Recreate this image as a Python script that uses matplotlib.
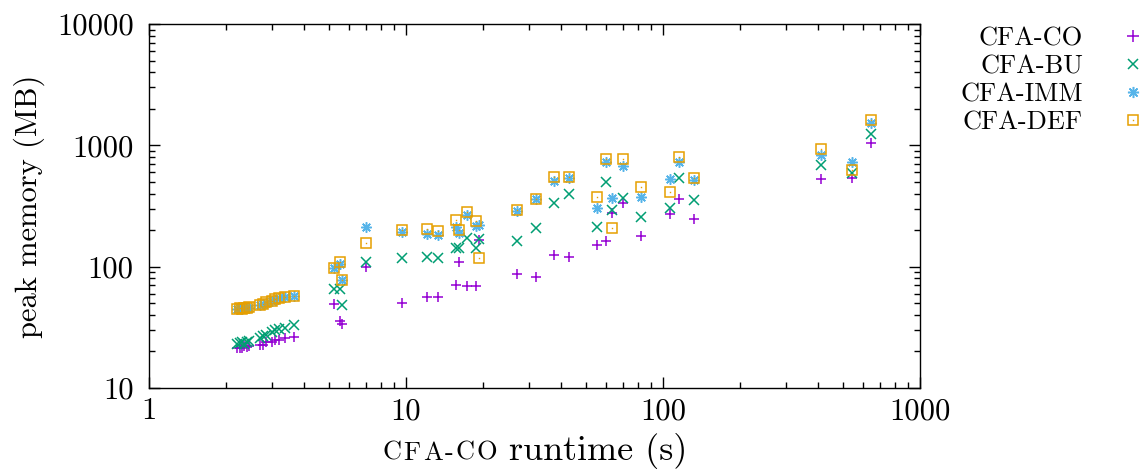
#!/usr/bin/env python3
"""
Peak memory vs CFA-CO runtime, log-log scatter (gnuplot look).
"""

import matplotlib
matplotlib.use("Agg")
import matplotlib.pyplot as plt
from matplotlib.lines import Line2D
from matplotlib.ticker import NullFormatter
from matplotlib.offsetbox import TextArea, HPacker, AnchoredOffsetbox

# ---------- Data ----------
runtime = [2.20, 2.25, 2.30, 2.35, 2.40, 2.45, 2.70, 2.78, 2.85, 3.00, 3.08, 3.20, 3.38, 3.65,
           5.25, 5.53, 5.63, 6.99, 9.65, 12.1, 13.3, 15.7, 16.1, 17.3, 18.7, 19.2,
           27.0, 32.1, 37.7, 43.1, 55.4, 60.0, 63.3, 69.9, 82.1, 106, 115, 132,
           412, 544, 645]

mem_co = [21.2, 21.5, 21.3, 22.0, 21.8, 22.3, 22.8, 22.5, 23.8, 24.0, 24.8, 25.0, 25.8, 26.3,
          49, 36, 34, 99, 50, 56, 56, 70, 109, 69, 69, 166,
          87, 82, 125, 120, 151, 163, 277, 335, 179, 272, 361, 247,
          529, 538, 1047]

mem_bu = [23.0, 23.5, 24.0, 23.2, 24.0, 24.2, 26.0, 27.0, 27.5, 29.0, 30.0, 30.5, 31.5, 33.0,
          65, 65, 48, 109, 118, 120, 118, 143, 143, 172, 143, 169,
          163, 208, 335, 397, 212, 499, 293, 369, 257, 305, 538, 355,
          689, 592, 1242]

mem_imm = [45.0, 45.5, 45.0, 45.8, 45.3, 46.0, 48.5, 49.0, 50.5, 52.0, 53.5, 55.0, 56.0, 57.0,
           98, 105, 77, 212, 193, 186, 183, 212, 190, 267, 216, 220,
           290, 361, 509, 540, 305, 730, 369, 676, 376, 529, 730, 520,
           834, 730, 1530]

mem_def = [45.2, 45.6, 45.1, 46.0, 45.4, 46.2, 48.6, 49.2, 50.7, 52.3, 53.8, 55.2, 56.3, 57.2,
           98, 109, 77, 157, 200, 205, 195, 243, 200, 283, 238, 118,
           293, 361, 548, 548, 376, 773, 208, 773, 454, 413, 802, 538,
           934, 627, 1620]

series_labels = ["CFA-CO", "CFA-BU", "CFA-IMM", "CFA-DEF"]
xticks = [1, 10, 100, 1000]
xtick_labels = ["1", "10", "100", "1000"]
yticks = [10, 100, 1000, 10000]
ytick_labels = ["10", "100", "1000", "10000"]

# gnuplot default palette
C_CO = "#9400d3"
C_BU = "#009e73"
C_IMM = "#56b4e9"
C_DEF = "#e69f00"
# ---------------------------------------------------

plt.rcParams["font.family"] = "cmr10"
plt.rcParams["axes.unicode_minus"] = False

W, H = 1142, 470
fig = plt.figure(figsize=(W / 100, H / 100), dpi=100)
ax = fig.add_axes([149 / W, 1 - 388 / H, (920 - 149) / W, (388 - 24) / H])

mew = 1.1
ax.plot(runtime, mem_co, ls="none", marker="+", ms=7.5, mew=mew, color=C_CO)
ax.plot(runtime, mem_bu, ls="none", marker="x", ms=6.5, mew=mew, color=C_BU)
ax.plot(runtime, mem_imm, ls="none", marker=(8, 2, 0), ms=7.5, mew=mew, color=C_IMM)
ax.plot(runtime, mem_def, ls="none", marker="s", ms=6.5, mew=mew, mfc="none", color=C_DEF)
ax.plot(runtime, mem_def, ls="none", marker="s", ms=1, mew=0, color=C_DEF)

ax.set_xscale("log")
ax.set_yscale("log")
ax.set_xlim(1, 1000)
ax.set_ylim(10, 10000)
ax.set_xticks(xticks, labels=xtick_labels)
ax.set_yticks(yticks, labels=ytick_labels)
ax.xaxis.set_minor_formatter(NullFormatter())
ax.yaxis.set_minor_formatter(NullFormatter())
ax.tick_params(which="both", direction="in", top=True, right=True, labelsize=22, width=1)
ax.tick_params(which="major", length=8)
ax.tick_params(which="minor", length=4)
ax.tick_params(axis="x", pad=7)
ax.tick_params(axis="y", pad=11)
for sp in ax.spines.values():
    sp.set_linewidth(1.0)

# y label
fig.text(29 / W, 1 - 206 / H, "peak memory (MB)", rotation=90, ha="center", va="center", fontsize=22)

# x label with small-caps "CFA-CO" (letters spaced out a bit)
sc_parts = [TextArea(ch, textprops=dict(fontsize=19)) for ch in "CFA-CO"]
sc_box = HPacker(children=sc_parts, align="baseline", pad=0, sep=1.5)
ta2 = TextArea(" runtime (s)", textprops=dict(fontsize=26))
box = HPacker(children=[sc_box, ta2], align="baseline", pad=0, sep=0)
xl = AnchoredOffsetbox(loc="center", child=box, frameon=False, pad=0, borderpad=0,
                       bbox_to_anchor=(535 / W, 1 - 451 / H), bbox_transform=fig.transFigure)
fig.add_artist(xl)

# legend (text then marker, right aligned)
h_co = Line2D([], [], ls="none", marker="+", ms=8, mew=mew, color=C_CO)
h_bu = Line2D([], [], ls="none", marker="x", ms=7, mew=mew, color=C_BU)
h_imm = Line2D([], [], ls="none", marker=(8, 2, 0), ms=8, mew=mew, color=C_IMM)
h_def = (Line2D([], [], ls="none", marker="s", ms=7, mew=mew, mfc="none", color=C_DEF),
         Line2D([], [], ls="none", marker="s", ms=1, mew=0, color=C_DEF))
fig.legend([h_co, h_bu, h_imm, h_def], series_labels, loc="upper right",
           bbox_to_anchor=(1141 / W, 1 - 27 / H), bbox_transform=fig.transFigure,
           markerfirst=False, frameon=False, fontsize=19, handlelength=0.6,
           handletextpad=1.6, labelspacing=0.16, borderpad=0, borderaxespad=0)

fig.savefig("out.png", dpi=100)
